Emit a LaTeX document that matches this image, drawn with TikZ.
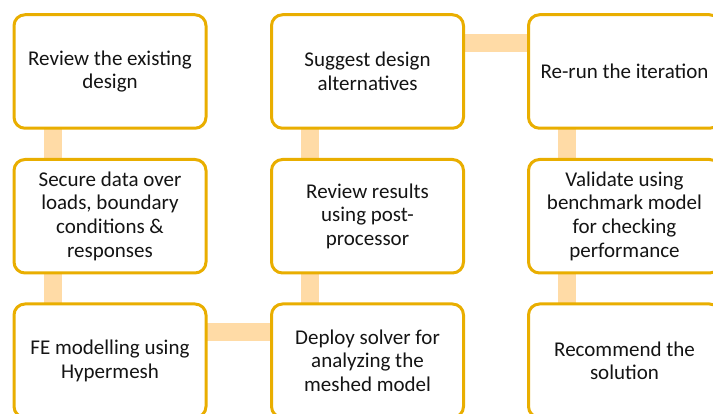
\documentclass[tikz,border=0pt]{standalone}
\usepackage{fontspec}
\setmainfont{Carlito}
\usetikzlibrary{backgrounds}
\definecolor{boxline}{HTML}{E9AE00}
\definecolor{connfill}{HTML}{FFDBA6}
\begin{document}
\begin{tikzpicture}[
  stepbox/.style={draw=boxline, line width=3pt, fill=white, rounded corners=11pt,
    minimum width=192pt, minimum height=113.5pt, inner sep=0pt, outer sep=0pt,
    align=center, font=\fontsize{21}{23.8}\selectfont, text=black!92},
  conn/.style={draw=connfill, line width=18pt}
]
\useasboundingbox (0pt,0pt) rectangle (713pt,-414pt);
\node[stepbox] (a) at (110pt,-71.5pt) {Review the existing\\design};
\node[stepbox] (b) at (110pt,-216.25pt) {Secure data over\\loads, boundary\\conditions \&\\responses};
\node[stepbox] (c) at (110pt,-360.75pt) {FE modelling using\\Hypermesh};
\node[stepbox] (d) at (367.5pt,-360.75pt) {Deploy solver for\\analyzing the\\meshed model};
\node[stepbox] (e) at (367.5pt,-216.25pt) {Review results\\using post-\\processor};
\node[stepbox] (f) at (367.5pt,-71.5pt) {Suggest design\\alternatives};
\node[stepbox] (g) at (624.5pt,-71.5pt) {Re-run the iteration};
\node[stepbox] (h) at (624.5pt,-216.25pt) {Validate using\\benchmark model\\for checking\\performance};
\node[stepbox] (i) at (624.5pt,-360.75pt) {Recommend the\\solution};
\begin{scope}[on background layer]
\draw[conn] ([xshift=39pt]a.south west) -- ([xshift=39pt]b.north west);
\draw[conn] ([xshift=39pt]b.south west) -- ([xshift=39pt]c.north west);
\draw[conn] ([yshift=-28.5pt]c.north east) -- ([yshift=-28.5pt]d.north west);
\draw[conn] ([xshift=38.5pt]d.north west) -- ([xshift=38.5pt]e.south west);
\draw[conn] ([xshift=38.5pt]e.north west) -- ([xshift=38.5pt]f.south west);
\draw[conn] ([yshift=-28pt]f.north east) -- ([yshift=-28pt]g.north west);
\draw[conn] ([xshift=38.5pt]g.south west) -- ([xshift=38.5pt]h.north west);
\draw[conn] ([xshift=38.5pt]h.south west) -- ([xshift=38.5pt]i.north west);
\end{scope}
\end{tikzpicture}
\end{document}
